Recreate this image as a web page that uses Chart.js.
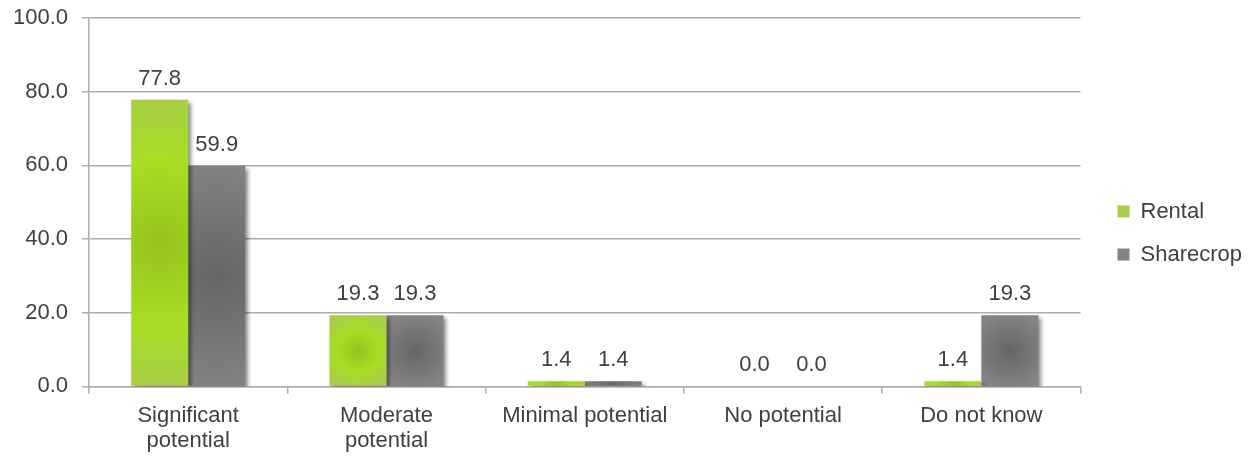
<!DOCTYPE html>
<html>
<head>
<meta charset="utf-8">
<title>Potential by tenure type</title>
<script src="https://cdn.jsdelivr.net/npm/chart.js@4/dist/chart.umd.min.js"></script>
<style>
  html, body { margin: 0; padding: 0; background: #ffffff; }
  #wrap { width: 1257px; height: 457px; position: relative; }
</style>
</head>
<body>
<div id="wrap"><canvas id="chart"></canvas></div>
<script>
// Survey categories (x axis)
const categories = [
  ['Significant', 'potential'],
  ['Moderate', 'potential'],
  'Minimal potential',
  'No potential',
  'Do not know'
];
// Percent of respondents per tenure type
const rentalValues = [77.8, 19.3, 1.4, 0.0, 1.4];
const sharecropValues = [59.9, 19.3, 1.4, 0.0, 19.3];
const seriesNames = ['Rental', 'Sharecrop'];
// Value axis ticks
const yTicks = [0, 20, 40, 60, 80, 100];

const FAMILY = '"Liberation Sans", Arial, sans-serif';
const FONT = { family: FAMILY, size: 22, lineHeight: 1.15 };
// single-line value-axis labels: a tight line height keeps the plot close to the top edge
const Y_FONT = { family: FAMILY, size: 22, lineHeight: 0.36 };
const TEXT = '#404040';
const GRID = '#adadad';
const CAT_PCT = 0.575;

// Radial shading for each bar, centred on the bar itself
function shade(stops, flat) {
  return (c) => {
    if (c.type !== 'data') return flat;
    const chart = c.chart, xs = chart.scales.x, ys = chart.scales.y;
    if (!xs || !ys || !chart.chartArea) return flat;
    const w = (xs.width / categories.length) * CAT_PCT / 2;
    const cx = xs.getPixelForValue(c.dataIndex) + (c.datasetIndex - 0.5) * w;
    const top = ys.getPixelForValue(c.raw), bottom = ys.getPixelForValue(0);
    const cy = (top + bottom) / 2;
    const r = Math.max(w, bottom - top) / 2 * 1.05 + 1;
    const g = chart.ctx.createRadialGradient(cx, cy, 0, cx, cy, r);
    stops.forEach(([p, col]) => g.addColorStop(p, col));
    return g;
  };
}

// Soft drop shadow under the bars, then value labels above them
const barDecor = {
  id: 'barDecor',
  beforeDatasetsDraw(chart) {
    const ctx = chart.ctx;
    ctx.save();
    ctx.shadowColor = 'rgba(0,0,0,0.45)';
    ctx.shadowBlur = 4;
    ctx.shadowOffsetX = 3;
    ctx.shadowOffsetY = 3;
  },
  afterDatasetsDraw(chart) {
    const ctx = chart.ctx;
    ctx.restore();
    ctx.save();
    ctx.font = `${FONT.size}px ${FONT.family}`;
    ctx.fillStyle = TEXT;
    ctx.textAlign = 'center';
    ctx.textBaseline = 'alphabetic';
    chart.data.datasets.forEach((ds, di) => {
      chart.getDatasetMeta(di).data.forEach((el, i) => {
        ctx.fillText(Number(ds.data[i]).toFixed(1), el.x, el.y - 15);
      });
    });
    ctx.restore();
  }
};

// Nudge the legend block next to the plot
const legendNudge = {
  id: 'legendNudge',
  afterLayout(chart) {
    const lg = chart.legend;
    if (!lg) return;
    const dx = 16, dy = 1;
    lg.left += dx; lg.right += dx;
    lg.top += dy; lg.bottom += dy;
  }
};

new Chart(document.getElementById('chart'), {
  type: 'bar',
  data: {
    labels: categories,
    datasets: [
      {
        label: seriesNames[0],
        data: rentalValues,
        backgroundColor: shade([[0, '#97c21e'], [0.55, '#a8dd24'], [1, '#a9cc4a']], '#9fd021')
      },
      {
        label: seriesNames[1],
        data: sharecropValues,
        backgroundColor: shade([[0, '#666666'], [0.55, '#767676'], [1, '#848484']], '#7a7a7a')
      }
    ]
  },
  options: {
    responsive: true,
    maintainAspectRatio: false,
    animation: false,
    layout: { padding: { top: 0, left: -1, right: 21, bottom: -7 } },
    datasets: { bar: { categoryPercentage: CAT_PCT, barPercentage: 1.0, borderWidth: 0 } },
    scales: {
      x: {
        grid: { drawOnChartArea: false, drawTicks: true, tickLength: 7, color: GRID, lineWidth: 1.5, offset: true },
        border: { color: GRID, width: 1.5 },
        ticks: { font: FONT, color: TEXT, padding: 10, maxRotation: 0, autoSkip: false }
      },
      y: {
        min: 0,
        max: 100,
        afterBuildTicks: (axis) => { axis.ticks = yTicks.map(v => ({ value: v })); },
        grid: { color: GRID, lineWidth: 1.5, tickLength: 7 },
        border: { color: GRID, width: 1.5 },
        ticks: { font: Y_FONT, color: TEXT, padding: 14, callback: (v) => Number(v).toFixed(1) }
      }
    },
    plugins: {
      tooltip: { enabled: false },
      legend: {
        position: 'right',
        labels: {
          font: FONT,
          color: TEXT,
          boxWidth: 12,
          boxHeight: 12,
          padding: 21
        }
      }
    }
  },
  plugins: [barDecor, legendNudge]
});
</script>
</body>
</html>
